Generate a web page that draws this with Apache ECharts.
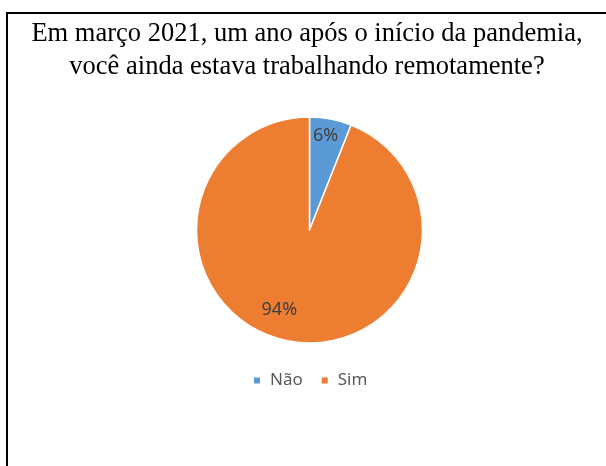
<!DOCTYPE html>
<html><head><meta charset="utf-8">
<script src="https://cdn.jsdelivr.net/npm/echarts@6/dist/echarts.min.js"></script>
<style>html,body{margin:0;padding:0;background:#fff}#c{width:606px;height:466px}</style>
</head><body><div id="c"></div>
<script>
const titleText = 'Em março 2021, um ano após o início da pandemia,\nvocê ainda estava trabalhando remotamente?';
const categories = ['Não', 'Sim'];
const values = [6, 94];
const colors = ['#5B9BD5', '#ED7D31'];
const labelOffsets = [[5, -36], [-19, 21]];

const chart = echarts.init(document.getElementById('c'), null, {renderer: 'canvas'});
chart.setOption({
  backgroundColor: '#fff',
  animation: false,
  graphic: [
    {type: 'line', shape: {x1: 6, y1: 13, x2: 606, y2: 13}, style: {stroke: '#000', lineWidth: 2}},
    {type: 'line', shape: {x1: 7, y1: 12, x2: 7, y2: 466}, style: {stroke: '#000', lineWidth: 2}}
  ],
  title: {
    text: titleText,
    left: 302, top: 13, textAlign: 'center',
    textStyle: {fontFamily: 'Liberation Serif', fontSize: 26.5, fontWeight: 'normal', color: '#000', lineHeight: 33}
  },
  legend: {
    data: categories,
    top: 367, left: 247,
    icon: 'rect', itemWidth: 8, itemHeight: 8, itemGap: 17,
    textStyle: {fontFamily: 'Noto Sans', fontSize: 17, color: '#595959', padding: [0, 0, 0, 4]}
  },
  series: [{
    type: 'pie',
    center: [309.5, 230],
    radius: [0, 113],
    startAngle: 90,
    clockwise: true,
    color: colors,
    itemStyle: {borderColor: '#fff', borderWidth: 1.5},
    emphasis: {disabled: true},
    label: {
      show: true, position: 'inside',
      formatter: p => p.value + '%',
      fontFamily: 'Noto Sans', fontSize: 18, color: '#404040'
    },
    labelLine: {show: false},
    data: categories.map((c, i) => ({name: c, value: values[i], label: {offset: labelOffsets[i]}}))
  }]
});
</script></body></html>
